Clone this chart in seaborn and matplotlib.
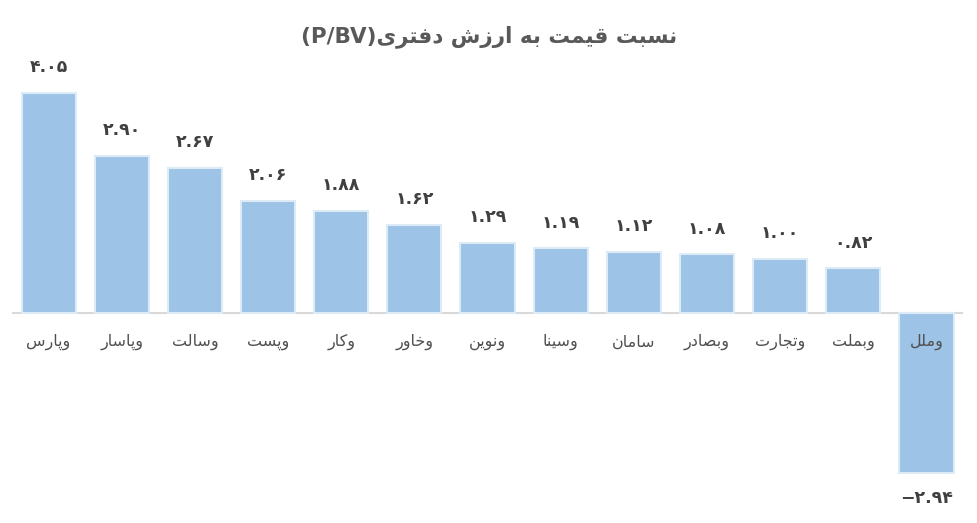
import matplotlib
matplotlib.use("Agg")
import matplotlib.pyplot as plt
import seaborn as sns
import pandas as pd

# ---- data ----
tickers = ["وپارس", "وپاسار", "وسالت", "وپست", "وکار", "وخاور", "ونوین",
           "وسینا", "سامان", "وبصادر", "وتجارت", "وبملت", "وملل"]
pbv = [4.05, 2.90, 2.67, 2.06, 1.88, 1.62, 1.29, 1.19, 1.12, 1.08, 1.00, 0.82, -2.94]
title_fa = "نسبت قیمت به ارزش دفتری"
title_en = "(P/BV)"

# ---- minimal Persian shaping (matplotlib has no complex text layout) ----
FORMS = {
    'ا': ('\uFE8D', '\uFE8E', None, None),
    'ب': ('\uFE8F', '\uFE90', '\uFE91', '\uFE92'),
    'پ': ('\uFB56', '\uFB57', '\uFB58', '\uFB59'),
    'ت': ('\uFE95', '\uFE96', '\uFE97', '\uFE98'),
    'ج': ('\uFE9D', '\uFE9E', '\uFE9F', '\uFEA0'),
    'خ': ('\uFEA5', '\uFEA6', '\uFEA7', '\uFEA8'),
    'د': ('\uFEA9', '\uFEAA', None, None),
    'ر': ('\uFEAD', '\uFEAE', None, None),
    'ز': ('\uFEAF', '\uFEB0', None, None),
    'س': ('\uFEB1', '\uFEB2', '\uFEB3', '\uFEB4'),
    'ش': ('\uFEB5', '\uFEB6', '\uFEB7', '\uFEB8'),
    'ص': ('\uFEB9', '\uFEBA', '\uFEBB', '\uFEBC'),
    'ف': ('\uFED1', '\uFED2', '\uFED3', '\uFED4'),
    'ق': ('\uFED5', '\uFED6', '\uFED7', '\uFED8'),
    'ک': ('\uFB8E', '\uFB8F', '\uFB90', '\uFB91'),
    'ل': ('\uFEDD', '\uFEDE', '\uFEDF', '\uFEE0'),
    'م': ('\uFEE1', '\uFEE2', '\uFEE3', '\uFEE4'),
    'ن': ('\uFEE5', '\uFEE6', '\uFEE7', '\uFEE8'),
    'ه': ('\uFEE9', '\uFEEA', '\uFEEB', '\uFEEC'),
    'و': ('\uFEED', '\uFEEE', None, None),
    'ی': ('\uFBFC', '\uFBFD', '\uFBFE', '\uFBFF'),
}


def shape(text):
    out = []
    n = len(text)
    for i, ch in enumerate(text):
        f = FORMS.get(ch)
        if f is None:
            out.append(ch)
            continue
        prev = text[i - 1] if i > 0 else None
        nxt = text[i + 1] if i < n - 1 else None
        join_prev = prev in FORMS and FORMS[prev][2] is not None
        join_next = f[2] is not None and nxt in FORMS
        if join_prev and join_next:
            out.append(f[3])
        elif join_prev:
            out.append(f[1])
        elif join_next:
            out.append(f[2])
        else:
            out.append(f[0])
    return "".join(reversed(out))


FA_DIGITS = str.maketrans("0123456789", "۰۱۲۳۴۵۶۷۸۹")


def fa_num(v):
    s = f"{abs(v):.2f}".translate(FA_DIGITS)
    return ("−" + s) if v < 0 else s


df = pd.DataFrame({"ticker": tickers, "pbv": pbv})

sns.set_theme(style="white")
plt.rcParams["font.family"] = ["DejaVu Sans"]

fig = plt.figure(figsize=(9.78, 5.23), dpi=100)
ax = fig.add_axes([0.0123, 0.0249, 0.9724, 0.8604])

sns.barplot(data=df, x="ticker", y="pbv", ax=ax, color="#9DC3E6",
            saturation=1, width=0.74, edgecolor="#DDEBF7", linewidth=1.5)

ax.set_xlim(-0.5, 12.5)
ax.set_ylim(-3.628, 4.659)
ax.axhline(0, color="#D9D9D9", linewidth=1.5, zorder=0.5)
ax.set_xticks([])
ax.set_yticks([])
ax.set_xlabel("")
ax.set_ylabel("")
for s in ax.spines.values():
    s.set_visible(False)

# value labels
ax.bar_label(ax.containers[0], labels=[fa_num(v) for v in pbv], padding=12,
             fontsize=12.5, fontweight="bold", color="#404040")

# category labels just below the zero line
for i, t in enumerate(tickers):
    ax.annotate(shape(t), xy=(i, 0), xytext=(0, -21), textcoords="offset points",
                ha="center", va="center", fontsize=11.5, color="#505050")

fig.text(0.5, 0.93, title_en + shape(title_fa), ha="center", va="center",
         fontsize=15.5, fontweight="bold", color="#595959")

fig.savefig("out.png", dpi=100)
